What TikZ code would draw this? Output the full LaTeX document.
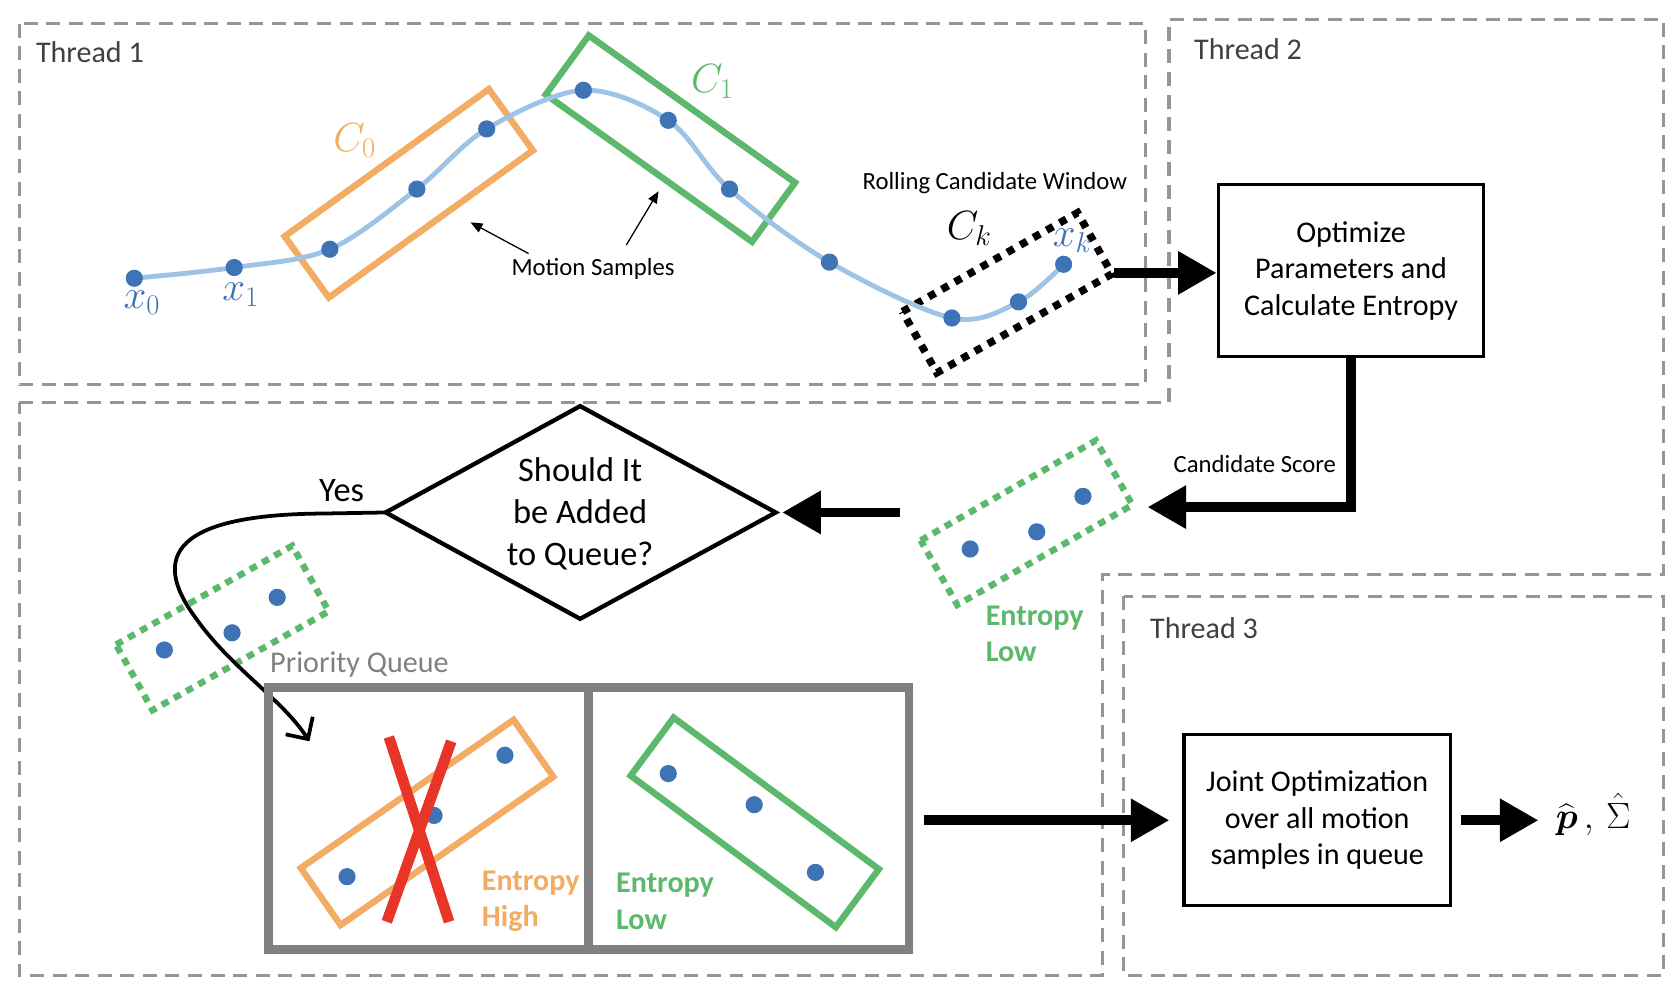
\RequirePackage{fix-cm}
\documentclass[tikz,border=0pt]{standalone}
\usepackage{amsmath}
\usepackage{fontspec}
\setmainfont{Carlito}
\usetikzlibrary{arrows.meta,calc}
\definecolor{dashgray}{RGB}{150,150,150}
\definecolor{txtgray}{RGB}{64,64,64}
\definecolor{qgray}{RGB}{128,128,128}
\definecolor{dotblue}{RGB}{62,116,182}
\definecolor{curveblue}{RGB}{157,195,230}
\definecolor{cOrange}{RGB}{243,172,100}
\definecolor{cGreen}{RGB}{92,184,106}
\definecolor{cRed}{RGB}{233,53,39}
\begin{document}
\begin{tikzpicture}[x=1pt,y=-1pt,
  thread/.style={draw=dashgray, line width=3pt, dash pattern=on 13pt off 8pt},
  tlabel/.style={font=\fontsize{28}{34}\selectfont, text=txtgray, anchor=west},
  samp/.style={circle, fill=dotblue, inner sep=0pt, minimum size=16pt},
  traj/.style={draw=curveblue, line width=4.5pt},
  obox/.style={draw=cOrange, line width=6pt},
  gbox/.style={draw=cGreen, line width=6pt},
  kbox/.style={draw=black, line width=7pt, dash pattern=on 7pt off 7pt},
  gdots/.style={draw=cGreen, line width=6pt, dash pattern=on 7pt off 6pt},
  procbox/.style={draw, line width=3pt, align=center, font=\fontsize{28}{34}\selectfont, minimum width=247pt, minimum height=160pt, inner sep=0pt},
  bigarrow/.style={line width=9pt, -{Triangle[length=36pt,width=38pt]}},
  thinarrow/.style={line width=1.2pt, -{Triangle[length=11pt,width=9pt]}},
  smalltext/.style={font=\fontsize{23}{28}\selectfont},
  mathlbl/.style={font=\fontsize{38}{44}\selectfont},
  enttext/.style={font=\fontsize{28}{34}\selectfont\bfseries, align=left, anchor=west}
]
\fill[white] (0,0) rectangle (1560,925);
\useasboundingbox (0,0) rectangle (1560,925);

% thread regions
\draw[thread] (18,22) rectangle (1066,358);
\draw[thread] (18,375) -- (1088,375) -- (1088,18) -- (1548,18) -- (1548,535) -- (1026,535) -- (1026,908) -- (18,908) -- cycle;
\draw[thread] (1046,555) rectangle (1548,908);
\node[tlabel] (t1) at (30,49) {Thread 1};
\node[tlabel] (t2) at (1108,46) {Thread 2};
\node[tlabel] (t3) at (1067,585) {Thread 3};

% windows in thread 1
\draw[obox] (265,220) -- (455,83) -- (496,140) -- (306,277) -- cycle;
\draw[gbox] (508,88) -- (548,33) -- (740,170) -- (700,225) -- cycle;
\draw[kbox] (840,290) -- (1003,198) -- (1035,255) -- (872,347) -- cycle;

% trajectory
\draw[traj] plot[smooth, tension=0.55] coordinates {(125,259) (218,249) (307,232) (388,176) (453,120) (543,84) (622,112) (679,176) (772,244) (886,296) (948,281) (990,246)};
\foreach \p [count=\i] in {(125,259),(218,249),(307,232),(388,176),(453,120),(543,84),(622,112),(679,176),(772,244),(886,296),(948,281),(990,246)}
  \node[samp] (s\i) at \p {};

\node[mathlbl, text=dotblue] (lx0) at (132,282) {$x_0$};
\node[mathlbl, text=dotblue] (lx1) at (224,274) {$x_1$};
\node[mathlbl, text=dotblue] (lxk) at (998,224) {$x_k$};
\node[mathlbl, text=cOrange] (lc0) at (330,131) {$C_0$};
\node[mathlbl, text=cGreen] (lc1) at (663,76) {$C_1$};
\node[mathlbl] (lck) at (902,213) {$C_k$};

\node[smalltext] (rcw) at (926,170) {Rolling Candidate Window};
\node[smalltext] (ms) at (552,250) {Motion Samples};
\coordinate (ma1) at (492,236);
\coordinate (mb1) at (438,207);
\coordinate (ma2) at (583,228);
\coordinate (mb2) at (613,178);
\draw[thinarrow] (ma1) -- (mb1);
\draw[thinarrow] (ma2) -- (mb2);

% thread 2
\node[procbox] (opt) at (1257.5,252) {Optimize\\Parameters and\\Calculate Entropy};
\coordinate (ckR) at (1037,254);
\draw[bigarrow] (ckR) -- (opt.west |- ckR);
\coordinate (gR) at (1068,472);
\draw[bigarrow, line join=miter] (opt.south) |- (gR);
\node[smalltext] (cs) at (1168,432) {Candidate Score};

% candidate (middle right)
\draw[gdots] (857,503) -- (1020,410) -- (1054,470) -- (891,563) -- cycle;
\node[samp] (m1) at (903,511) {};
\node[samp] (m2) at (965,495) {};
\node[samp] (m3) at (1008,462) {};
\node[enttext, text=cGreen] (el1) at (914,590) {Entropy\\Low};

% decision
\coordinate (qL) at (359,477);
\coordinate (qR) at (722,477);
\coordinate (qT) at (540,378);
\coordinate (qB) at (540,576);
\draw[line width=4pt, line join=miter] (qL) -- (qT) -- (qR) -- (qB) -- cycle;
\node[font=\fontsize{32}{39}\selectfont, align=center] (q) at (540,478) {Should It\\be Added\\to Queue?};
\coordinate (aS) at (838,477);
\draw[bigarrow, shorten >=6pt] (aS) -- (qR);
\node[font=\fontsize{32}{39}\selectfont] (yes) at (318,457) {Yes};

% candidate (left)
\draw[gdots] (108,600) -- (272,508) -- (306,569) -- (142,661) -- cycle;
\node[samp] (l1) at (153,605) {};
\node[samp] (l2) at (216,589) {};
\node[samp] (l3) at (258,556) {};

\coordinate (yEnd) at (288,690);
\draw[line width=3.5pt, -{Straight Barb[length=15pt,width=30pt]}] (qL) -- (300,478) .. controls (150,479) and (145,525) .. (182,575) .. controls (215,622) and (262,650) .. (yEnd);

% priority queue
\node[font=\fontsize{28}{34}\selectfont, text=qgray, anchor=west] (pq) at (248,619) {Priority Queue};
\draw[draw=qgray, line width=8pt] (250,640) rectangle (846,884);
\draw[draw=qgray, line width=8pt] (548,640) -- (548,884);

\draw[obox] (280,808) -- (478,670) -- (515,723) -- (317,861) -- cycle;
\node[samp] (h1) at (323,816) {};
\node[samp] (h2) at (404,759) {};
\node[samp] (h3) at (470,703) {};
\draw[cRed, line width=10pt] (362,686) -- (418,858);
\draw[cRed, line width=10pt] (420,690) -- (360,858);
\node[enttext, text=cOrange] (eh) at (445,839) {Entropy\\High};

\draw[gbox] (587,722) -- (627,668) -- (818,809) -- (778,863) -- cycle;
\node[samp] (w1) at (622,720) {};
\node[samp] (w2) at (702,749) {};
\node[samp] (w3) at (759,812) {};
\node[enttext, text=cGreen] (el2) at (570,839) {Entropy\\Low};

% thread 3
\node[procbox, minimum width=248pt, minimum height=159pt] (joint) at (1226,763.5) {Joint Optimization\\over all motion\\samples in queue};
\coordinate (qOut) at (860,763.5);
\draw[bigarrow, shorten >=12pt] (qOut) -- (joint.west);
\node[font=\fontsize{34}{40}\selectfont, anchor=west, inner sep=2pt] (out) at (1446,758) {$\widehat{\boldsymbol{p}}\,,\,\hat{\Sigma}$};
\coordinate (outIn) at (1432,763.5);
\draw[bigarrow, shorten <=8pt] (joint.east) -- (outIn);
\end{tikzpicture}
\end{document}
